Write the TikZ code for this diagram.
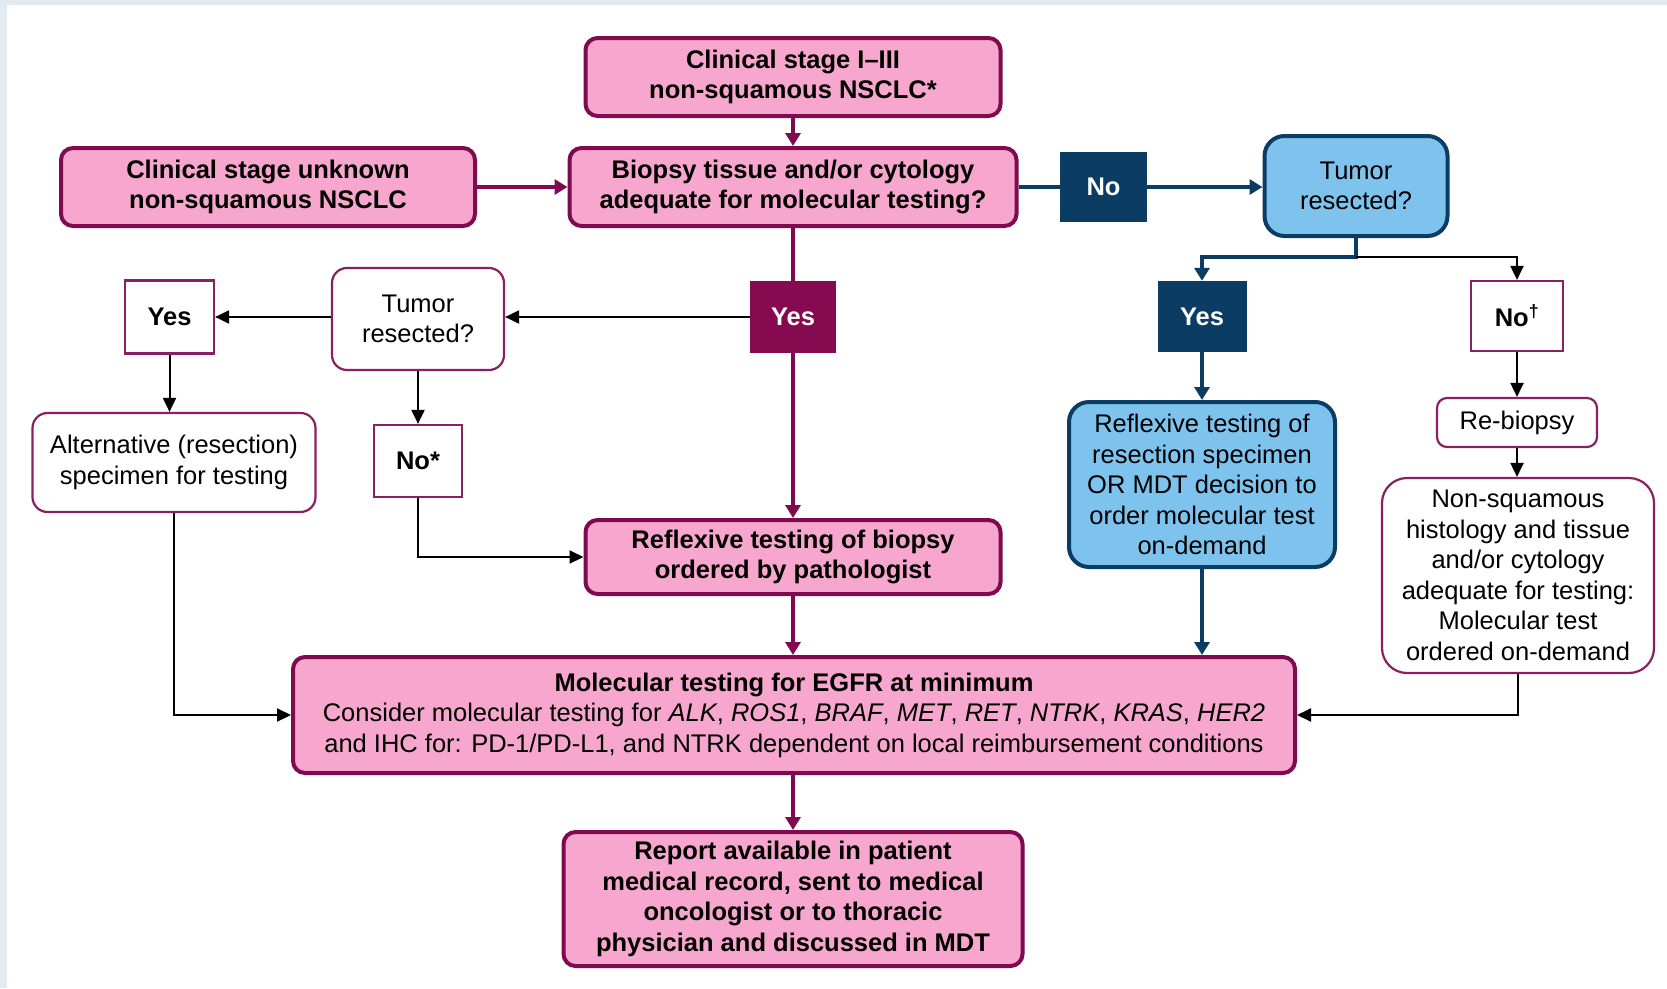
\documentclass[tikz,border=0pt]{standalone}
\usepackage{fontspec}
\setmainfont{Liberation Sans}
\usetikzlibrary{arrows.meta}
\definecolor{pinkfill}{HTML}{F7A6CE}
\definecolor{magenta}{HTML}{800A50}
\definecolor{magfill}{HTML}{850A50}
\definecolor{dblue}{HTML}{0B3C64}
\definecolor{lblue}{HTML}{7DC3EE}
\definecolor{wborder}{HTML}{8A2064}
\definecolor{bgframe}{HTML}{E3EBF2}
\begin{document}
\begin{tikzpicture}[x=1pt,y=-1pt,
  every node/.style={font=\fontsize{25.5}{30.5}\selectfont, align=center, inner sep=2pt},
  pinkbox/.style={draw=magenta, fill=pinkfill, line width=4pt, rounded corners=12pt, font=\fontsize{25.5}{30.5}\selectfont\bfseries},
  bluebox/.style={draw=dblue, fill=lblue, line width=4pt, rounded corners=20pt},
  whitebox/.style={draw=wborder, fill=white, line width=2.2pt, rounded corners=15pt},
  magsq/.style={fill=magfill, text=white, font=\fontsize{25.5}{30.5}\selectfont\bfseries},
  bluesq/.style={fill=dblue, text=white, font=\fontsize{25.5}{30.5}\selectfont\bfseries},
  whitesq/.style={draw=wborder, fill=white, line width=2.2pt, font=\fontsize{25.5}{30.5}\selectfont\bfseries},
  magline/.style={draw=magenta, line width=4.5pt},
  magarrow/.style={magline, -{Triangle[length=13pt,width=15pt]}},
  blueline/.style={draw=dblue, line width=4.5pt},
  bluearrow/.style={blueline, -{Triangle[length=13pt,width=15pt]}},
  thinarrow/.style={draw=black, line width=2pt, -{Triangle[length=14pt,width=13pt]}},
]
\useasboundingbox (0,0) rectangle (1667,988);
\fill[bgframe] (0,0) rectangle (1667,988);
\fill[white] (7,5) rectangle (1667,988);

% nodes
\node[pinkbox, minimum width=415pt, minimum height=78pt] (top) at (793,77) {Clinical stage I--III\\non-squamous NSCLC*};
\node[pinkbox, minimum width=414pt, minimum height=78pt] (unknown) at (268,187) {Clinical stage unknown\\non-squamous NSCLC};
\node[pinkbox, minimum width=447pt, minimum height=78pt] (biopsy) at (793,187) {Biopsy tissue and/or cytology\\adequate for molecular testing?};
\node[bluesq, minimum width=87pt, minimum height=70pt] (no) at (1103.5,187) {No};
\node[bluebox, minimum width=183pt, minimum height=100pt] (tumorB) at (1356,186) {Tumor\\resected?};
\node[magsq, minimum width=86pt, minimum height=72pt] (yesM) at (793,317) {Yes};
\node[whitebox, minimum width=172pt, minimum height=102pt] (tumorW) at (418,319) {Tumor\\resected?};
\node[whitesq, minimum width=89pt, minimum height=73pt] (yesW) at (169.5,317) {Yes};
\node[whitebox, minimum width=283pt, minimum height=99pt] (alt) at (174,462.5) {Alternative (resection)\\specimen for testing};
\node[whitesq, minimum width=88pt, minimum height=72pt] (noS) at (418,461) {No*};
\node[pinkbox, minimum width=415pt, minimum height=74pt] (reflexB) at (793,557) {Reflexive testing of biopsy\\ordered by pathologist};
\node[bluesq, minimum width=89pt, minimum height=71pt] (yesB) at (1202,316.5) {Yes};
\node[whitesq, minimum width=92pt, minimum height=70pt] (noD) at (1517,316) {No\textsuperscript{†}};
\node[bluebox, minimum width=266pt, minimum height=165pt] (reflexR) at (1202,484.5) {Reflexive testing of\\resection specimen\\OR MDT decision to\\order molecular test\\on-demand};
\node[whitebox, rounded corners=10pt, minimum width=160pt, minimum height=49pt] (rebiopsy) at (1517,422.5) {Re-biopsy};
\node[whitebox, rounded corners=25pt, minimum width=272pt, minimum height=195pt] (nonsq) at (1518,575.5) {Non-squamous\\histology and tissue\\and/or cytology\\adequate for testing:\\Molecular test\\ordered on-demand};
\node[pinkbox, font=\fontsize{25.5}{30.5}\selectfont, minimum width=1002pt, minimum height=116pt] (mol) at (794,715) {\textbf{Molecular testing for EGFR at minimum}\\Consider molecular testing for \textit{ALK}, \textit{ROS1}, \textit{BRAF}, \textit{MET}, \textit{RET}, \textit{NTRK}, \textit{KRAS}, \textit{HER2}\\and IHC for: PD-1/PD-L1, and NTRK dependent on local reimbursement conditions};
\node[pinkbox, minimum width=459pt, minimum height=134pt] (report) at (793,899) {Report available in patient\\medical record, sent to medical\\oncologist or to thoracic\\physician and discussed in MDT};

% connectors
\draw[magarrow] (top.south) -- (biopsy.north);
\draw[magarrow] (unknown.east) -- (biopsy.west);
\draw[blueline] (biopsy.east) -- (no.west);
\draw[bluearrow] (no.east) -- (no.east -| tumorB.west);
\draw[magline] (biopsy.south) -- (yesM.north);
\draw[magarrow] (yesM.south) -- (reflexB.north);
\draw[thinarrow] (yesM.west) -- (yesM.west -| tumorW.east);
\draw[thinarrow] (yesW.east -| tumorW.west) -- (yesW.east);
\draw[thinarrow] (yesW.south) -- (yesW.south |- alt.north);
\draw[thinarrow] (tumorW.south) -- (noS.north);
\draw[thinarrow] (noS.south) |- (reflexB.west);
\draw[thinarrow] (alt.south) |- (mol.west);
\coordinate (split) at (1356,257);
\draw[bluearrow] (tumorB.south) -- (split) -| (yesB.north);
\draw[thinarrow] (split) -| (noD.north);
\draw[bluearrow] (yesB.south) -- (reflexR.north);
\draw[thinarrow] (noD.south) -- (rebiopsy.north);
\draw[thinarrow] (rebiopsy.south) -- (rebiopsy.south |- nonsq.north);
\draw[bluearrow] (reflexR.south) -- (reflexR.south |- mol.north);
\draw[thinarrow] (nonsq.south) |- (mol.east);
\draw[magarrow] (reflexB.south) -- (mol.north -| reflexB.south);
\draw[magarrow] (mol.south -| report.north) -- (report.north);
\end{tikzpicture}
\end{document}
